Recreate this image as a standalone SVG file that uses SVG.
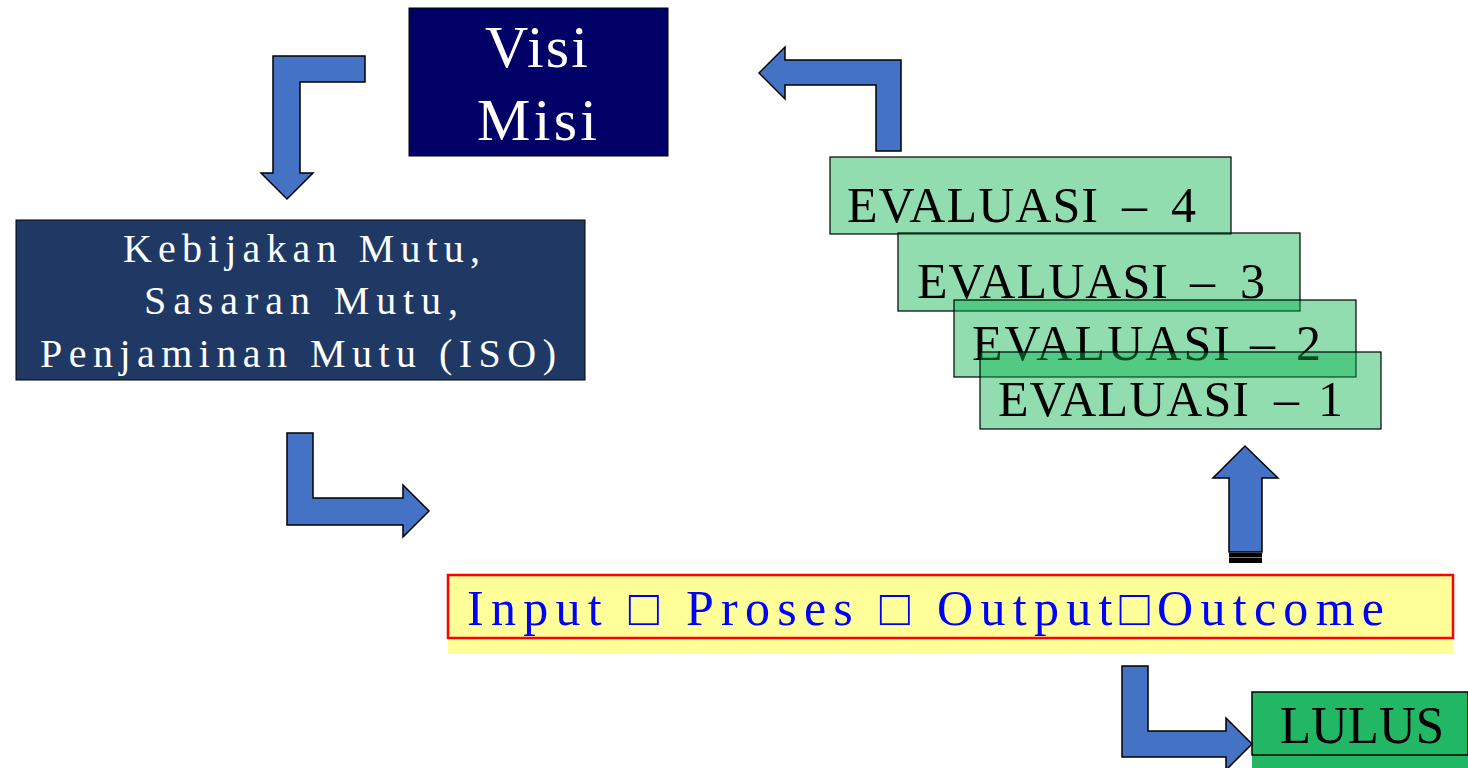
<svg xmlns="http://www.w3.org/2000/svg" width="1468" height="768" viewBox="0 0 1468 768">
<style>
.arr{fill:#4472c4;stroke:#000;stroke-width:1.5;stroke-linejoin:miter}
.ser{font-family:"Liberation Serif","Times New Roman",serif}
.wt{fill:#fff}
.eb{fill:#00b048;fill-opacity:0.43;stroke:#000;stroke-width:1.2}
.et{font-size:50px;fill:#000}
</style>
<rect width="1468" height="768" fill="#fff"/>
<g id="visi-misi">
<rect x="409" y="8" width="259" height="148" fill="#000066" stroke="#000" stroke-width="1"/>
<text class="ser wt" x="485" y="67" font-size="60" textLength="103" lengthAdjust="spacing">Visi</text>
<text class="ser wt" x="477" y="140" font-size="60" textLength="120" lengthAdjust="spacing">Misi</text>
</g>
<g id="kebijakan">
<rect x="16" y="220" width="569" height="160" fill="#203864" stroke="#000" stroke-width="1"/>
<text class="ser wt" x="123" y="262" font-size="40" textLength="357" lengthAdjust="spacing">Kebijakan Mutu,</text>
<text class="ser wt" x="144" y="314" font-size="40" textLength="314" lengthAdjust="spacing">Sasaran Mutu,</text>
<text class="ser wt" x="40" y="367" font-size="40" textLength="516" lengthAdjust="spacing">Penjaminan Mutu (ISO)</text>
</g>
<g id="evaluasi-4">
<rect class="eb" x="830" y="157" width="401" height="77"/>
<text class="ser et" y="222"><tspan x="847" textLength="251" lengthAdjust="spacing">EVALUASI</tspan> <tspan x="1122">–</tspan> <tspan x="1171">4</tspan></text>
</g>
<g id="evaluasi-3">
<rect class="eb" x="898" y="233" width="402" height="78"/>
<text class="ser et" y="298"><tspan x="917" textLength="251" lengthAdjust="spacing">EVALUASI</tspan> <tspan x="1190">–</tspan> <tspan x="1240">3</tspan></text>
</g>
<g id="evaluasi-2">
<rect class="eb" x="954" y="300" width="402" height="77"/>
<text class="ser et" y="360"><tspan x="972" textLength="258" lengthAdjust="spacing">EVALUASI</tspan> <tspan x="1250">–</tspan> <tspan x="1296">2</tspan></text>
</g>
<g id="evaluasi-1">
<rect class="eb" x="980" y="352" width="401" height="77"/>
<text class="ser et" y="416"><tspan x="998" textLength="251" lengthAdjust="spacing">EVALUASI</tspan> <tspan x="1274">–</tspan> <tspan x="1318">1</tspan></text>
</g>
<g id="proses">
<rect x="448" y="575" width="1005" height="79" fill="#ffff99"/>
<rect x="448" y="575" width="1005" height="63" fill="none" stroke="#ff0000" stroke-width="2.5"/>
<text class="ser" x="467" y="625" font-size="50" fill="#0000ff" textLength="917" lengthAdjust="spacing">Input □ Proses □ Output□Outcome</text>
</g>
<g id="lulus">
<rect x="1252" y="692" width="216" height="76" fill="#21b764"/>
<rect x="1252" y="692" width="216" height="63" fill="none" stroke="#000" stroke-width="1.5"/>
<text class="ser" x="1280" y="743" font-size="53" fill="#000" textLength="164" lengthAdjust="spacingAndGlyphs">LULUS</text>
</g>
<g id="connectors">
<polygon class="arr" points="365,56 273,56 273,173 261,173 287,199 313,173 300,173 300,82 365,82"/>
<polygon class="arr" points="901,151 901,60 785,60 785,47 759,73 785,99 785,85 876,85 876,151"/>
<polygon class="arr" points="287,433 313,433 313,498 403,498 403,485 429,511 403,537 403,525 287,525"/>
<polygon class="arr" points="1229,552 1229,478 1213,478 1245,446 1278,478 1262,478 1262,552"/>
<rect x="1229" y="553" width="33" height="10" fill="#000"/>
<line x1="1229" y1="557.5" x2="1262" y2="557.5" stroke="#777" stroke-width="1"/>
<polygon class="arr" points="1122,666 1148,666 1148,731 1226,731 1226,718 1252,744 1226,770 1226,757 1122,757"/>
</g>
</svg>
